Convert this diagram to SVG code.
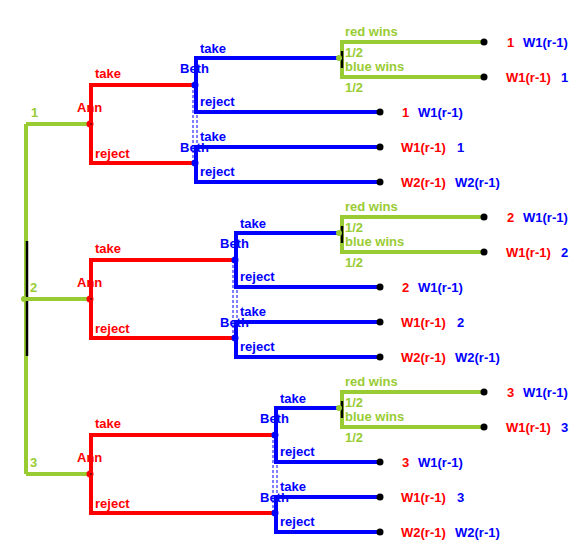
<svg xmlns="http://www.w3.org/2000/svg" width="584" height="557" viewBox="0 0 584 557">
<style>
text{font-family:"Liberation Sans",Arial,sans-serif;font-weight:bold;font-size:13px}
.r{fill:#FF0000}.b{fill:#0000FF}.g{fill:#99CC33}
.lr{stroke:#FF0000;stroke-width:4;fill:none}
.lb{stroke:#0000FF;stroke-width:4;fill:none}
.lg{stroke:#99CC33;stroke-width:4;fill:none}
.ds{stroke:#0000FF;stroke-width:1;stroke-dasharray:3,2;fill:none}
.bk{stroke:#000;stroke-width:2.5;fill:none}
</style>
<rect width="584" height="557" fill="#fff"/>
<g id="connectors">
<path class="lg" d="M26,124 V474"/>
<path class="bk" d="M27,241 V356"/>
<path class="lg" d="M26,124 H90 M26,299 H90 M26,474 H90"/>
<!-- group 1 -->
<path class="lr" d="M195,85 H91 V163 H195"/>
<path class="lb" d="M340,58 H196 V112 H380"/>
<path class="lb" d="M380,147 H196 V182 H380"/>
<path class="ds" d="M193,85 V163 M197,85 V163"/>
<path class="lg" d="M484,42 H342 V77 H484"/>
<path class="bk" d="M342,51 V68"/>
<!-- group 2 -->
<path class="lr" d="M235,260 H91 V338 H235"/>
<path class="lb" d="M340,233 H236 V287 H380"/>
<path class="lb" d="M380,322 H236 V357 H380"/>
<path class="ds" d="M233,260 V338 M237,260 V338"/>
<path class="lg" d="M484,217 H342 V252 H484"/>
<path class="bk" d="M342,226 V243"/>
<!-- group 3 -->
<path class="lr" d="M275,435 H91 V513 H275"/>
<path class="lb" d="M340,408 H276 V462 H380"/>
<path class="lb" d="M380,497 H276 V532 H380"/>
<path class="ds" d="M273,435 V513 M277,435 V513"/>
<path class="lg" d="M484,392 H342 V427 H484"/>
<path class="bk" d="M342,401 V418"/>
</g>
<g id="root"><circle cx="24" cy="299" r="3" fill="#99CC33"/></g>
<g id="edge-labels">
<text class="g" x="31" y="117">1</text>
<text class="g" x="30" y="292">2</text>
<text class="g" x="30" y="467">3</text>
</g>
<!-- Ann nodes -->
<g id="ann1"><circle cx="90" cy="124" r="3.5" fill="#FF0000"/><circle cx="91" cy="124" r="0.8" fill="#000"/>
<text class="r" x="77" y="112">Ann</text><text class="r" x="95" y="78">take</text><text class="r" x="95" y="158">reject</text></g>
<g id="ann2"><circle cx="90" cy="299" r="3.5" fill="#FF0000"/><circle cx="91" cy="299" r="0.8" fill="#000"/>
<text class="r" x="77" y="287">Ann</text><text class="r" x="95" y="253">take</text><text class="r" x="95" y="333">reject</text></g>
<g id="ann3"><circle cx="90" cy="474" r="3.5" fill="#FF0000"/><circle cx="91" cy="474" r="0.8" fill="#000"/>
<text class="r" x="77" y="462">Ann</text><text class="r" x="95" y="428">take</text><text class="r" x="95" y="508">reject</text></g>
<!-- Beth nodes -->
<g id="beth1a"><circle cx="195" cy="85" r="3.5" fill="#0000FF"/><text class="b" x="180" y="73">Beth</text><text class="b" x="200" y="53">take</text><text class="b" x="200" y="106">reject</text></g>
<g id="beth1b"><circle cx="195" cy="163" r="3.5" fill="#0000FF"/><text class="b" x="180" y="152">Beth</text><text class="b" x="200" y="141">take</text><text class="b" x="200" y="176">reject</text></g>
<g id="beth2a"><circle cx="235" cy="260" r="3.5" fill="#0000FF"/><text class="b" x="220" y="248">Beth</text><text class="b" x="240" y="228">take</text><text class="b" x="240" y="281">reject</text></g>
<g id="beth2b"><circle cx="235" cy="338" r="3.5" fill="#0000FF"/><text class="b" x="220" y="327">Beth</text><text class="b" x="240" y="316">take</text><text class="b" x="240" y="351">reject</text></g>
<g id="beth3a"><circle cx="275" cy="435" r="3.5" fill="#0000FF"/><text class="b" x="260" y="423">Beth</text><text class="b" x="280" y="403">take</text><text class="b" x="280" y="456">reject</text></g>
<g id="beth3b"><circle cx="275" cy="513" r="3.5" fill="#0000FF"/><text class="b" x="260" y="502">Beth</text><text class="b" x="280" y="491">take</text><text class="b" x="280" y="526">reject</text></g>
<!-- chance nodes -->
<g id="chance1"><circle cx="339" cy="58" r="3" fill="#99CC33"/><text class="g" x="345" y="36">red wins</text><text class="g" x="345" y="57">1/2</text><text class="g" x="345" y="71">blue wins</text><text class="g" x="345" y="92">1/2</text></g>
<g id="chance2"><circle cx="339" cy="233" r="3" fill="#99CC33"/><text class="g" x="345" y="211">red wins</text><text class="g" x="345" y="232">1/2</text><text class="g" x="345" y="246">blue wins</text><text class="g" x="345" y="267">1/2</text></g>
<g id="chance3"><circle cx="339" cy="408" r="3" fill="#99CC33"/><text class="g" x="345" y="386">red wins</text><text class="g" x="345" y="407">1/2</text><text class="g" x="345" y="421">blue wins</text><text class="g" x="345" y="442">1/2</text></g>
<!-- terminals group 1 -->
<g id="t1a"><circle cx="484" cy="42" r="3.5" fill="#000"/><text class="r" x="507" y="47">1</text><text class="b" x="523" y="47">W1(r-1)</text></g>
<g id="t1b"><circle cx="484" cy="77" r="3.5" fill="#000"/><text class="r" x="506" y="82">W1(r-1)</text><text class="b" x="561" y="82">1</text></g>
<g id="t1c"><circle cx="380" cy="112" r="3.5" fill="#000"/><text class="r" x="402" y="117">1</text><text class="b" x="418" y="117">W1(r-1)</text></g>
<g id="t1d"><circle cx="380" cy="147" r="3.5" fill="#000"/><text class="r" x="401" y="152">W1(r-1)</text><text class="b" x="457" y="152">1</text></g>
<g id="t1e"><circle cx="380" cy="182" r="3.5" fill="#000"/><text class="r" x="401" y="187">W2(r-1)</text><text class="b" x="455" y="187">W2(r-1)</text></g>
<!-- terminals group 2 -->
<g id="t2a"><circle cx="484" cy="217" r="3.5" fill="#000"/><text class="r" x="507" y="222">2</text><text class="b" x="523" y="222">W1(r-1)</text></g>
<g id="t2b"><circle cx="484" cy="252" r="3.5" fill="#000"/><text class="r" x="506" y="257">W1(r-1)</text><text class="b" x="561" y="257">2</text></g>
<g id="t2c"><circle cx="380" cy="287" r="3.5" fill="#000"/><text class="r" x="402" y="292">2</text><text class="b" x="418" y="292">W1(r-1)</text></g>
<g id="t2d"><circle cx="380" cy="322" r="3.5" fill="#000"/><text class="r" x="401" y="327">W1(r-1)</text><text class="b" x="457" y="327">2</text></g>
<g id="t2e"><circle cx="380" cy="357" r="3.5" fill="#000"/><text class="r" x="401" y="362">W2(r-1)</text><text class="b" x="455" y="362">W2(r-1)</text></g>
<!-- terminals group 3 -->
<g id="t3a"><circle cx="484" cy="392" r="3.5" fill="#000"/><text class="r" x="507" y="397">3</text><text class="b" x="523" y="397">W1(r-1)</text></g>
<g id="t3b"><circle cx="484" cy="427" r="3.5" fill="#000"/><text class="r" x="506" y="432">W1(r-1)</text><text class="b" x="561" y="432">3</text></g>
<g id="t3c"><circle cx="380" cy="462" r="3.5" fill="#000"/><text class="r" x="402" y="467">3</text><text class="b" x="418" y="467">W1(r-1)</text></g>
<g id="t3d"><circle cx="380" cy="497" r="3.5" fill="#000"/><text class="r" x="401" y="502">W1(r-1)</text><text class="b" x="457" y="502">3</text></g>
<g id="t3e"><circle cx="380" cy="532" r="3.5" fill="#000"/><text class="r" x="401" y="537">W2(r-1)</text><text class="b" x="455" y="537">W2(r-1)</text></g>
</svg>
